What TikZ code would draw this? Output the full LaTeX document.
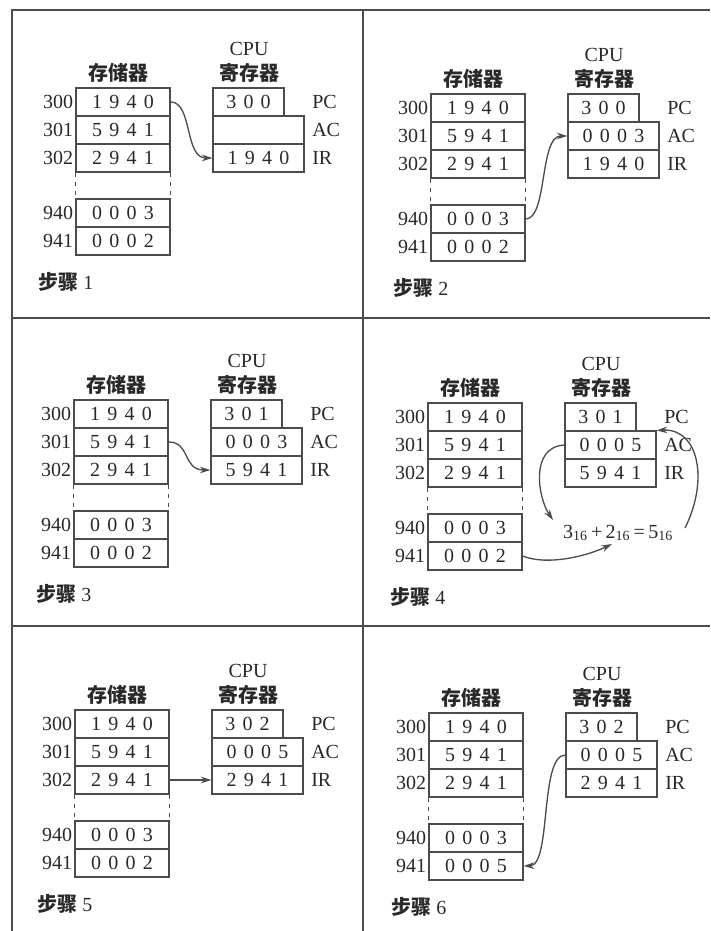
\documentclass[tikz,border=0pt]{standalone}
\usepackage{fontspec}
\setmainfont{Liberation Serif}
\newfontfamily\cjk{Noto Sans CJK SC}
\usetikzlibrary{arrows.meta}
\definecolor{linec}{rgb}{0.3,0.3,0.3}
\definecolor{inkc}{rgb}{0.16,0.16,0.16}
\newcommand\fs{\fontsize{15}{18}\selectfont}
\newcommand\gp{\hspace{0.36em}}
\newcommand\four[4]{#1\gp#2\gp#3\gp#4}
\newcommand\three[3]{#1\gp#2\gp#3}
\newcommand\zh{\cjk\bfseries}
\tikzset{
  cell/.style={draw=linec, line width=0.9pt, minimum width=70.5pt, minimum height=21pt, inner sep=0pt, text=inkc, font=\fs},
  pcbox/.style={cell, minimum width=53.25pt},
  regbox/.style={cell, minimum width=68.25pt},
  lbl/.style={text=inkc, font=\fs, inner sep=0pt},
  flow/.style={draw=linec, line width=1pt, -{Stealth[length=8pt,width=5pt]}},
  gridline/.style={draw=linec, line width=1pt},
  dashside/.style={draw=linec, line width=0.9pt, dash pattern=on 3pt off 4pt},
}
% #1 prefix, #2 mem left, #3 mem top, #4 PC, #5 AC, #6 IR, #7 941 value, #8 step
\newcommand\panel[8]{%
  \node[lbl] (#1mt) at (#2+42,#3-15) {\zh 存储器};
  \node[lbl] (#1cpu) at (#2+173,#3-39) {CPU};
  \node[lbl] (#1rt) at (#2+173,#3-15) {\zh 寄存器};
  \node[cell] (#1m0) at (#2+47,#3+14) {\four1940};
  \node[cell] (#1m1) at (#2+47,#3+42) {\four5941};
  \node[cell] (#1m2) at (#2+47,#3+70) {\four2941};
  \node[cell] (#1m3) at (#2+47,#3+125) {\four0003};
  \node[cell] (#1m4) at (#2+47,#3+153) {#7};
  \draw[dashside] (#1m2.south west) -- (#1m3.north west);
  \draw[dashside] (#1m2.south east) -- (#1m3.north east);
  \node[lbl, anchor=east] (#1l0) at ([xshift=-1.5pt]#1m0.west) {300};
  \node[lbl, anchor=east] (#1l1) at ([xshift=-1.5pt]#1m1.west) {301};
  \node[lbl, anchor=east] (#1l2) at ([xshift=-1.5pt]#1m2.west) {302};
  \node[lbl, anchor=east] (#1l3) at ([xshift=-1.5pt]#1m3.west) {940};
  \node[lbl, anchor=east] (#1l4) at ([xshift=-1.5pt]#1m4.west) {941};
  \node[pcbox] (#1pc) at (#2+172.5,#3+14) {#4};
  \node[regbox] (#1ac) at (#2+182.5,#3+42) {#5};
  \node[regbox] (#1ir) at (#2+182.5,#3+70) {#6};
  \node[lbl, anchor=west] (#1pcl) at (#2+236,#3+14) {PC};
  \node[lbl, anchor=west] (#1acl) at (#2+236,#3+42) {AC};
  \node[lbl, anchor=west] (#1irl) at (#2+236,#3+70) {IR};
  \node[lbl, anchor=west] (#1st) at (#2-38,#3+194) {{\zh 步骤} #8};
}
\begin{document}
\begin{tikzpicture}[x=0.75pt,y=-0.75pt]
\useasboundingbox (0,0) rectangle (710,931);
% frame and dividers
\draw[gridline] (710,10) -- (12,10) -- (12,931);
\draw[gridline] (12,318) -- (710,318);
\draw[gridline] (12,626) -- (710,626);
\draw[gridline] (363,10) -- (363,931);
% panels
\panel{p1}{76}{88}{\three300}{}{\four1940}{\four0002}{1}
\panel{p2}{431}{94}{\three300}{\four0003}{\four1940}{\four0002}{2}
\panel{p3}{74}{400}{\three301}{\four0003}{\four5941}{\four0002}{3}
\panel{p4}{428}{403}{\three301}{\four0005}{\four5941}{\four0002}{4}
\panel{p5}{75}{710}{\three302}{\four0005}{\four2941}{\four0002}{5}
\panel{p6}{429}{713}{\three302}{\four0005}{\four2941}{\four0005}{6}
% arrows
\draw[flow] (p1m0.east) .. controls +(22,0) and +(-28,0) .. (p1ir.west);
\draw[flow] (p2m3.east) .. controls +(22,0) and +(-28,0) .. (p2ac.west);
\draw[flow] (p3m1.east) .. controls +(22,0) and +(-28,0) .. (p3ir.west);
\node[lbl] (p4f) at (618,533) {3\textsubscript{16}\,+\,2\textsubscript{16}\,=\,5\textsubscript{16}};
\coordinate (p4a) at (553,520);
\coordinate (p4b) at (612,544);
\coordinate (p4c) at (685,528);
\draw[flow] (p4ac.west) .. controls +(-35,2) and +(-15,-22) .. (p4a);
\draw[flow] (p4m4.east) .. controls +(25,10) and +(-25,12) .. (p4b);
\draw[flow] (p4c) .. controls +(24,-48) and +(42,-2) .. (p4ac.north east);
\draw[flow] (p5m2.east) -- (p5ir.west);
\draw[flow] (p6ac.west) .. controls +(-26,0) and +(28,-1) .. (p6m4.east);
\end{tikzpicture}
\end{document}
